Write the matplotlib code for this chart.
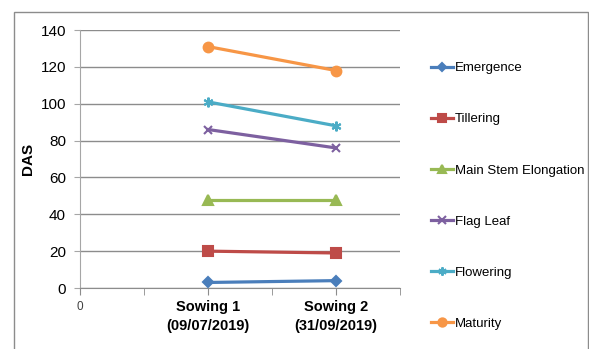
import matplotlib
matplotlib.use("Agg")
import matplotlib.pyplot as plt
import matplotlib.transforms as mtransforms
from matplotlib.patches import Rectangle

plt.rcParams['font.family'] = ['Liberation Sans', 'DejaVu Sans']

# Dados: dias após a semeadura (DAS) por estádio
semeaduras = ["Sowing 1\n(09/07/2019)", "Sowing 2\n(31/09/2019)"]
posicoes = [1, 2]
estadios = ["Emergence", "Tillering", "Main Stem Elongation", "Flag Leaf", "Flowering", "Maturity"]
emergence = [3, 4]
tillering = [20, 19]
main_stem = [48, 48]
flag_leaf = [86, 76]
flowering = [101, 88]
maturity = [131, 118]

valores = [emergence, tillering, main_stem, flag_leaf, flowering, maturity]
cores = ["#4A7EBB", "#BE4B48", "#98B954", "#7D60A0", "#4BACC6", "#F79646"]
marcadores = ["D", "s", "^", "x", (6, 2, 0), "o"]
tamanhos = [5, 7, 7, 6, 7, 7]

fig = plt.figure(figsize=(5.89, 3.49), dpi=100)
ax = fig.add_axes([80/589, 61/349, 320/589, 258/349])

# moldura externa
fig.patches.append(Rectangle((14/589, -0.05), 574/589, 1 - 12/349 + 0.05,
                             transform=fig.transFigure, fill=False,
                             edgecolor="#8c8c8c", lw=1))

linhas = []
for nome, v, c, m, s in zip(estadios, valores, cores, marcadores, tamanhos):
    l, = ax.plot(posicoes, v, color=c, lw=2.3, marker=m, markersize=s,
                 markeredgewidth=1.5, label=nome, zorder=3)
    linhas.append(l)

ax.set_xlim(0, 2.5)
ax.set_ylim(0, 140)
ax.set_yticks(range(0, 141, 20))
ax.grid(axis="y", color="#8c8c8c", lw=1)
ax.set_axisbelow(True)
for lado in ["top", "right"]:
    ax.spines[lado].set_visible(False)
ax.spines["left"].set_color("#a6a6a6")
ax.spines["bottom"].set_color("#8c8c8c")

ax.set_xticks([0, 1, 2])
ax.set_xticklabels(["0"] + semeaduras, fontsize=10.5, fontweight="bold",
                   linespacing=1.45)
ax.set_xticks([0.5, 1.5, 2.5], minor=True)
rotulos = ax.get_xticklabels()
rotulos[0].set_fontsize(8.5)
rotulos[0].set_fontweight("normal")
rotulos[0].set_color("#404040")
rotulos[0].set_transform(rotulos[0].get_transform() +
                         mtransforms.ScaledTranslation(0, -5/100, fig.dpi_scale_trans))
ax.tick_params(axis="x", which="both", length=5, color="#8c8c8c", pad=4)
ax.tick_params(axis="y", length=4, color="#a6a6a6", labelsize=11, pad=6)

ax.set_ylabel("DAS", fontsize=11, fontweight="bold")
ax.yaxis.set_label_coords(-45/320, 0.5)

fig.legend(handles=linhas, loc="center left", bbox_to_anchor=(431/589, 1 - 196/349),
           frameon=False, fontsize=9.5, labelspacing=2.95, handlelength=1.65,
           handletextpad=0.15, borderpad=0, borderaxespad=0, markerscale=0.85)

plt.savefig("out.png", dpi=100)
